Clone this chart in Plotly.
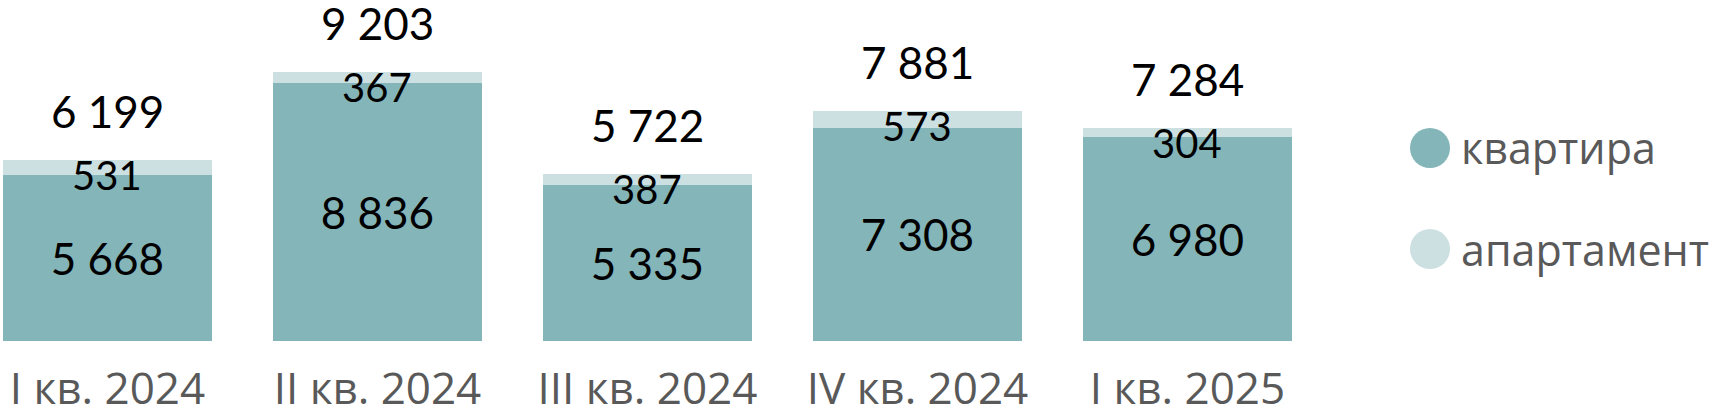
import plotly.graph_objects as go

categories = ["I кв. 2024", "II кв. 2024", "III кв. 2024", "IV кв. 2024", "I кв. 2025"]
kvartira = [5668, 8836, 5335, 7308, 6980]
apartment = [531, 367, 387, 573, 304]
series_names = ["квартира", "апартамент"]
colors = ["#84B5B9", "#CCE0E2"]


def fmt(v):
    return f"{v:,}".replace(",", " ")


totals = [a + b for a, b in zip(kvartira, apartment)]

W, H = 1717, 413
ML, MR, MT, MB = 0, 317, 0, 72
PW, PH = W - ML - MR, H - MT - MB

fig = go.Figure()
fig.add_bar(
    x=categories, y=kvartira, name=series_names[0],
    marker=dict(color=colors[0], line=dict(width=0)),
    text=[fmt(v) for v in kvartira], textposition="inside",
    insidetextanchor="middle",
    textfont=dict(family="Lato", size=44, color="black"),
    showlegend=False, hoverinfo="skip",
)
fig.add_bar(
    x=categories, y=apartment, name=series_names[1],
    marker=dict(color=colors[1], line=dict(width=0)),
    showlegend=False, hoverinfo="skip",
)

annotations = []
for c, a, t in zip(categories, apartment, totals):
    annotations.append(dict(
        x=c, y=t, xref="x", yref="y", text=fmt(a), showarrow=False,
        yanchor="middle", yshift=-15,
        font=dict(family="Lato", size=40, color="black"),
    ))
    annotations.append(dict(
        x=c, y=t, xref="x", yref="y", text=fmt(t), showarrow=False,
        yanchor="middle", yshift=49,
        font=dict(family="Lato", size=44, color="black"),
    ))

# legend (circles + labels)
shapes = []
leg_y = [148, 249]
for name, col, py in zip(series_names, colors, leg_y):
    yp = (MT + PH - py) / PH
    shapes.append(dict(
        type="circle", xref="paper", yref="paper",
        xsizemode="pixel", ysizemode="pixel",
        xanchor=(1430 - ML) / PW, yanchor=yp,
        x0=-20, x1=20, y0=-20, y1=20,
        fillcolor=col, line=dict(width=0),
    ))
    annotations.append(dict(
        x=(1459 - ML) / PW, y=yp, xref="paper", yref="paper",
        text=name, showarrow=False, xanchor="left", yanchor="middle",
        font=dict(family="Open Sans", size=43, color="#595959"),
    ))

fig.update_layout(
    width=W, height=H,
    margin=dict(l=ML, r=MR, t=MT, b=MB, pad=0),
    barmode="stack", bargap=0.226,
    plot_bgcolor="white", paper_bgcolor="white",
    showlegend=False,
    annotations=annotations, shapes=shapes,
    xaxis=dict(
        range=[-0.398, -0.398 + PW / 270.0],
        showgrid=False, showline=False, zeroline=False, ticks="",
        automargin=False,
        tickfont=dict(family="Open Sans", size=44, color="#595959"),
        ticklabelstandoff=18,
    ),
    yaxis=dict(visible=False, range=[0, PH / 0.0292], fixedrange=True,
               automargin=False),
    uniformtext=dict(minsize=44, mode="show"),
)

fig.write_html(
    "out.html",
    config={"displayModeBar": False, "staticPlot": True},
    post_script="document.body.style.margin='0';document.body.style.overflow='hidden';",
)
